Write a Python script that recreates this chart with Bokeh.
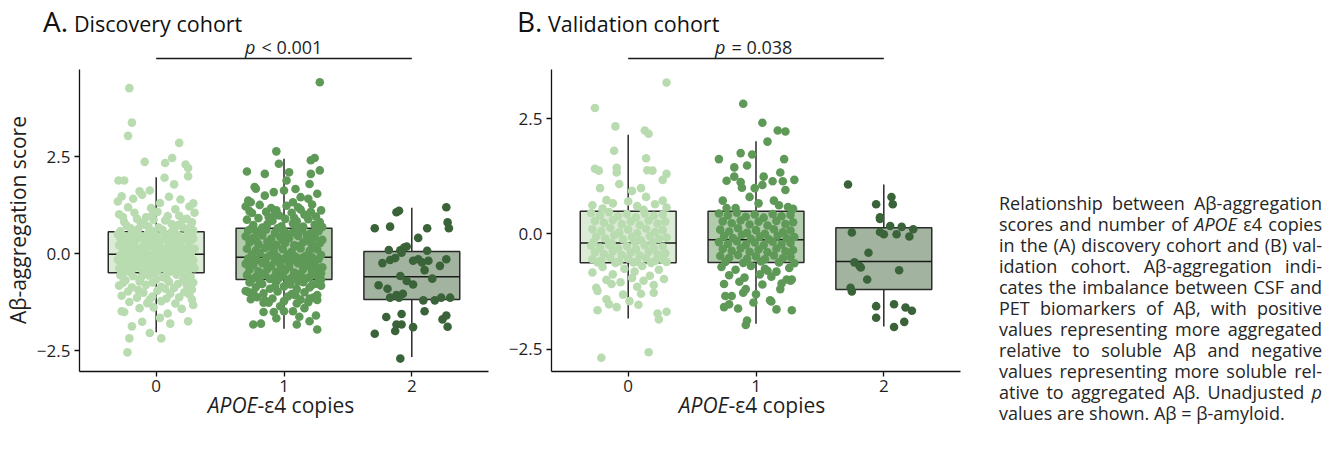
from bokeh.plotting import figure
from bokeh.models import Range1d, FixedTicker, CustomJSTickFormatter, Label, Div, ColumnDataSource
from bokeh.layouts import row, column
from bokeh.embed import file_html
from bokeh.resources import INLINE

FONT = "Open Sans"
TXT = "#1f1f1f"

# ---------------- data ----------------
CATEGORIES = [0, 1, 2]
Y_TICKS = [-2.5, 0.0, 2.5]
PT_COLORS = ["#b9dbb0", "#5f9957", "#3b6339"]
BOX_FILLS = ["#dcebd6", "#b3cbad", "#a2b49f"]

# Discovery cohort box statistics
A_Q1 = [-0.49, -0.66, -1.18]
A_MED = [-0.01, -0.09, -0.59]
A_Q3 = [0.57, 0.66, 0.06]
A_LO = [-2.02, -1.93, -2.66]
A_HI = [1.97, 2.45, 1.19]

# Validation cohort box statistics
B_Q1 = [-0.63, -0.62, -1.21]
B_MED = [-0.20, -0.13, -0.60]
B_Q3 = [0.49, 0.49, 0.13]
B_LO = [-1.84, -1.95, -2.01]
B_HI = [2.15, 2.01, 1.07]

# points: (jitter offset, score)
A0 = [(-0.21,4.27),(-0.19,3.38),(-0.22,3.04),(0.18,2.86),(-0.09,2.37),(0.07,2.34),(0.125,2.47),(0.23,2.30),(0.25,2.21),(0.25,2.00),
      (0.065,1.96),(-0.295,1.89),(-0.25,1.89),(0.14,1.79),(-0.13,1.61),(-0.05,1.63),(0.29,1.30),(-0.30,1.35),
      (-0.27,1.48),(-0.18,1.42),(-0.11,1.52),(0.03,1.31),(0.10,1.47),(0.19,1.40),(0.26,1.22),(-0.04,1.18),(0.15,1.15),(-0.22,1.20),
      (-0.29,1.02),(-0.17,1.06),(-0.08,0.94),(0.01,1.08),(0.07,0.86),(0.18,0.98),(0.24,0.90),(0.30,1.06),(-0.25,0.82),(-0.12,0.79),
      (0.12,0.77),(0.28,0.81),(-0.02,0.88),(-0.20,0.66),(-0.06,0.70),(0.05,0.62),(0.21,0.68),(0.29,0.60),(-0.28,0.58),(0.14,0.58),(-0.14,0.64),
      (-0.30,0.50),(-0.24,0.45),(-0.19,0.52),(-0.13,0.47),(-0.07,0.51),(0.00,0.46),(0.06,0.53),(0.11,0.44),(0.17,0.49),(0.23,0.42),(0.28,0.51),
      (-0.27,0.36),(-0.21,0.33),(-0.15,0.38),(-0.09,0.30),(-0.03,0.37),(0.03,0.32),(0.09,0.35),(0.15,0.28),(0.20,0.36),(0.26,0.31),
      (-0.29,0.22),(-0.23,0.18),(-0.17,0.24),(-0.11,0.16),(-0.05,0.21),(0.02,0.19),(0.08,0.14),(0.13,0.23),(0.19,0.17),(0.25,0.20),(0.30,0.13),
      (-0.26,0.08),(-0.20,0.05),(-0.14,0.10),(-0.08,0.03),(-0.01,0.07),(0.05,0.02),(0.11,0.09),(0.16,0.04),(0.22,0.06),(0.27,0.01),
      (-0.18,0.27),(0.00,0.26),(0.18,0.11),(-0.24,0.29),(0.07,0.41),(-0.10,0.43),
      (-0.28,-0.03),(-0.22,-0.06),(-0.16,-0.02),(-0.10,-0.08),(-0.04,-0.04),(0.03,-0.07),(0.09,-0.03),(0.14,-0.09),(0.20,-0.05),(0.26,-0.08),
      (-0.30,-0.15),(-0.25,-0.18),(-0.19,-0.13),(-0.13,-0.19),(-0.06,-0.14),(0.00,-0.17),(0.06,-0.12),(0.12,-0.18),(0.17,-0.14),(0.23,-0.20),(0.29,-0.16),
      (-0.27,-0.26),(-0.21,-0.30),(-0.15,-0.24),(-0.08,-0.29),(-0.02,-0.25),(0.04,-0.31),(0.10,-0.27),(0.16,-0.33),(0.21,-0.26),(0.27,-0.29),
      (-0.29,-0.38),(-0.23,-0.42),(-0.17,-0.36),(-0.11,-0.41),(-0.05,-0.37),(0.01,-0.44),(0.07,-0.39),(0.13,-0.45),(0.19,-0.40),(0.25,-0.43),(0.30,-0.37),
      (-0.20,-0.48),(0.09,-0.49),(-0.08,-0.47),(0.18,-0.21),(-0.12,-0.33),(0.02,-0.22),
      (-0.28,-0.55),(-0.18,-0.58),(-0.06,-0.56),(0.05,-0.60),(0.16,-0.54),(0.27,-0.59),
      (-0.24,-0.68),(-0.13,-0.71),(0.00,-0.66),(0.10,-0.72),(0.21,-0.68),(0.29,-0.74),
      (-0.29,-0.82),(-0.19,-0.86),(-0.08,-0.80),(0.04,-0.85),(0.14,-0.88),(0.24,-0.81),
      (-0.22,-0.97),(-0.10,-1.00),(0.01,-0.95),(0.11,-1.03),(0.22,-0.99),(-0.27,-1.08),
      (-0.15,-1.13),(-0.03,-1.10),(0.08,-1.15),(0.18,-1.12),(0.28,-1.18),(-0.21,-1.24),(-0.07,-1.27),(0.04,-1.22),(0.15,-1.28),(0.26,-1.05),
      (-0.225,-2.54),(-0.21,-2.18),(0.04,-2.18),(-0.19,-1.87),(-0.11,-1.75),(-0.05,-2.04),(0.11,-1.80),(0.25,-1.74),(0.03,-1.65),
      (-0.27,-1.48),(-0.25,-1.50),(0.29,-1.32),(0.09,-1.54),(-0.13,-1.40),(0.20,-1.42),(-0.02,-1.38),
      (-0.26,0.95),(-0.15,0.90),(-0.03,1.00),(0.09,0.97),(0.21,0.88),(-0.23,0.72),(-0.09,0.75),(0.02,0.68),(0.17,0.74),(0.27,0.70),
      (-0.16,0.55),(-0.02,0.58),(0.12,0.56),(0.25,0.58),(-0.28,0.40),(-0.06,0.42),(0.14,0.39),(0.29,0.39),(-0.20,0.14),(0.04,0.11),
      (0.24,0.12),(-0.12,-0.01),(0.10,-0.13),(-0.24,-0.10),(0.28,-0.23),(-0.18,-0.20),(0.07,-0.33),(-0.03,-0.50),(0.22,-0.52),(-0.25,-0.47),
      (-0.12,-0.62),(0.08,-0.64),(0.24,-0.66),(-0.26,-0.75),(-0.03,-0.74),(0.17,-0.78),(-0.14,-0.93),(0.07,-0.90),(0.28,-0.92),(-0.05,-1.18)]

A1 = [(0.28,4.42),(-0.06,2.64),(-0.04,2.32),(0.21,2.41),(0.24,2.47),(-0.29,2.12),(-0.15,2.06),(0.04,2.10),(0.28,2.15),(0.21,2.06),
      (0.02,1.89),(0.20,1.80),(-0.23,1.72),(-0.22,1.68),(-0.08,1.59),(0.00,1.63),(0.09,1.67),(-0.28,1.37),(-0.26,1.33),(0.13,1.46),
      (0.19,1.42),(0.07,1.33),(-0.15,1.50),(0.26,1.55),
      (-0.30,1.22),(-0.19,1.26),(-0.10,1.18),(0.02,1.24),(0.11,1.20),(0.22,1.27),(0.29,1.12),
      (-0.25,1.05),(-0.14,1.08),(-0.04,0.99),(0.06,1.06),(0.16,1.01),(0.25,0.96),
      (-0.29,0.88),(-0.20,0.92),(-0.09,0.85),(0.01,0.90),(0.10,0.84),(0.19,0.89),(0.28,0.82),
      (-0.24,0.74),(-0.13,0.77),(-0.02,0.71),(0.07,0.78),(0.15,0.70),(0.24,0.75),(-0.17,0.68),(0.30,0.69),(-0.06,1.12),(0.13,1.14),
      (-0.28,0.60),(-0.21,0.56),(-0.14,0.62),(-0.07,0.54),(0.00,0.59),(0.07,0.55),(0.14,0.61),(0.21,0.53),(0.27,0.58),
      (-0.30,0.45),(-0.24,0.41),(-0.17,0.47),(-0.10,0.39),(-0.03,0.44),(0.04,0.40),(0.11,0.46),(0.18,0.38),(0.24,0.43),(0.30,0.36),
      (-0.27,0.29),(-0.20,0.25),(-0.13,0.31),(-0.06,0.23),(0.01,0.28),(0.08,0.22),(0.15,0.30),(0.22,0.24),(0.28,0.27),
      (-0.29,0.13),(-0.22,0.09),(-0.15,0.15),(-0.08,0.07),(-0.01,0.12),(0.06,0.05),(0.13,0.14),(0.20,0.08),(0.26,0.11),
      (-0.25,-0.02),(-0.11,-0.04),(0.03,-0.01),(0.17,-0.05),(0.29,-0.03),
      (-0.28,-0.12),(-0.21,-0.16),(-0.14,-0.10),(-0.07,-0.18),(0.00,-0.13),(0.07,-0.17),(0.14,-0.11),(0.21,-0.19),(0.27,-0.14),
      (-0.30,-0.26),(-0.24,-0.30),(-0.17,-0.24),(-0.10,-0.32),(-0.03,-0.27),(0.04,-0.33),(0.11,-0.25),(0.18,-0.31),(0.24,-0.28),(0.30,-0.35),
      (-0.27,-0.41),(-0.20,-0.45),(-0.13,-0.39),(-0.06,-0.47),(0.01,-0.42),(0.08,-0.48),(0.15,-0.40),(0.22,-0.46),(0.28,-0.43),
      (-0.29,-0.55),(-0.22,-0.59),(-0.15,-0.53),(-0.08,-0.61),(-0.01,-0.56),(0.06,-0.62),(0.13,-0.54),(0.20,-0.60),(0.26,-0.57),
      (-0.25,-0.66),(-0.11,-0.65),(0.03,-0.67),(0.17,-0.64),(0.29,-0.66),
      (-0.27,-0.74),(-0.17,-0.78),(-0.06,-0.72),(0.05,-0.79),(0.15,-0.73),(0.25,-0.77),
      (-0.22,-0.86),(-0.11,-0.90),(0.00,-0.84),(0.10,-0.91),(0.20,-0.87),(0.29,-0.82),
      (-0.28,-0.98),(-0.16,-1.02),(-0.05,-0.97),(0.06,-1.04),(0.16,-0.99),(0.26,-1.06),
      (-0.21,-1.12),(-0.09,-1.15),(0.03,-1.10),(0.13,-1.18),(0.23,-1.13),
      (-0.12,-1.26),(0.00,-1.22),(0.10,-1.28),(0.19,-1.25),(-0.03,-1.35),
      (0.26,-1.95),(-0.24,-1.82),(-0.18,-1.80),(0.10,-1.82),(0.20,-1.74),(0.25,-1.59),(-0.16,-1.50),(-0.08,-1.50),(0.07,-1.48),
      (0.12,-1.62),(-0.30,-0.96),(-0.26,-1.17),(-0.16,-1.26),(0.26,-1.19),(0.00,-1.48),(0.16,-1.40),(-0.06,-1.66),
      (-0.27,1.10),(-0.07,1.03),(0.21,1.08),(-0.12,0.95),(0.08,0.93),(-0.26,0.64),(-0.05,0.66),(0.10,0.68),(0.25,0.66),(-0.18,0.52),
      (0.03,0.50),(0.18,0.48),(-0.22,0.34),(-0.01,0.35),(0.20,0.31),(-0.11,0.19),(0.10,0.20),(0.24,0.17),(-0.19,0.02),(0.09,-0.07),
      (0.22,-0.09),(-0.05,-0.08),(-0.25,-0.20),(0.04,-0.22),(0.17,-0.25),(-0.13,-0.28),(0.25,-0.37),(-0.02,-0.36),(-0.18,-0.50),(0.10,-0.52),
      (0.29,-0.50),(-0.04,-0.63),(-0.19,-0.70),(0.11,-0.71),(0.22,-0.80),(-0.07,-0.84),(-0.24,-1.00),(0.09,-1.07),(0.20,-1.15),(-0.15,-1.20)]

A2 = [(0.27,1.20),(-0.12,1.07),(-0.10,1.11),(-0.29,0.66),(-0.17,0.70),(0.12,0.66),(0.28,0.81),(0.29,0.66),(0.05,0.41),
      (-0.18,0.10),(-0.09,0.09),(-0.06,0.16),(-0.04,0.19),(-0.08,0.03),(0.12,0.08),
      (-0.23,-0.24),(-0.17,-0.16),(-0.13,-0.11),(0.01,-0.18),(0.05,-0.14),(0.08,-0.22),(0.13,-0.18),(0.27,-0.14),(0.22,-0.31),
      (0.10,-0.42),(-0.09,-0.57),(0.16,-0.64),(-0.04,-0.70),(0.01,-0.79),(-0.26,-0.81),(-0.19,-0.90),
      (-0.17,-1.13),(-0.12,-1.06),(-0.07,-1.03),(-0.10,-1.13),(0.09,-1.20),(0.18,-1.20),(0.23,-1.13),(0.30,-1.13),
      (0.10,-1.48),(-0.20,-1.63),(-0.08,-1.55),(0.27,-1.59),(0.24,-1.69),(0.28,-1.88),
      (-0.12,-1.82),(-0.08,-1.82),(-0.13,-1.99),(0.01,-1.89),(-0.29,-2.06),(-0.09,-2.70)]

B0 = [(0.30,3.28),(-0.26,2.73),(-0.10,2.33),(0.13,2.24),(0.16,2.17),(-0.11,1.80),(0.14,1.64),(-0.26,1.41),(-0.23,1.37),(-0.09,1.43),
      (-0.09,1.33),(0.15,1.38),(0.19,1.37),(0.30,1.30),(0.27,1.17),(-0.22,0.99),(-0.07,1.08),(-0.17,0.73),(0.03,0.93),(0.10,0.99),
      (0.14,0.80),(0.27,0.72),(0.30,0.57),
      (-0.28,0.62),(-0.12,0.66),(0.00,0.70),(0.07,0.60),(0.21,0.64),(-0.20,0.55),(0.12,0.52),
      (-0.29,0.45),(-0.22,0.40),(-0.15,0.47),(-0.08,0.38),(-0.01,0.43),(0.06,0.36),(0.13,0.44),(0.20,0.39),(0.27,0.42),
      (-0.26,0.28),(-0.19,0.24),(-0.12,0.30),(-0.05,0.21),(0.02,0.27),(0.09,0.19),(0.16,0.29),(0.23,0.22),(0.29,0.26),
      (-0.28,0.10),(-0.21,0.06),(-0.14,0.13),(-0.07,0.03),(0.00,0.09),(0.07,0.01),(0.14,0.11),(0.21,0.04),(0.27,0.08),
      (-0.25,-0.06),(-0.18,-0.10),(-0.11,-0.03),(-0.04,-0.12),(0.03,-0.07),(0.10,-0.14),(0.17,-0.05),(0.24,-0.11),(0.30,-0.08),
      (-0.27,-0.18),(-0.13,-0.20),(0.05,-0.17),(0.19,-0.19),
      (-0.29,-0.26),(-0.22,-0.30),(-0.15,-0.24),(-0.08,-0.32),(-0.01,-0.27),(0.06,-0.33),(0.13,-0.25),(0.20,-0.31),(0.27,-0.28),
      (-0.26,-0.40),(-0.19,-0.44),(-0.12,-0.38),(-0.05,-0.46),(0.02,-0.41),(0.09,-0.47),(0.16,-0.39),(0.23,-0.45),(0.29,-0.42),
      (-0.28,-0.55),(-0.21,-0.58),(-0.14,-0.52),(-0.07,-0.60),(0.00,-0.54),(0.07,-0.61),(0.14,-0.53),(0.21,-0.59),(0.27,-0.56),
      (-0.24,-0.62),(-0.10,-0.63),(0.04,-0.62),(0.18,-0.63),(0.30,-0.61),
      (-0.20,-0.72),(-0.03,-0.76),(0.05,-0.82),(0.11,-0.70),(0.17,-0.91),(0.24,-0.78),
      (-0.17,-1.00),(-0.06,-1.05),(0.03,-0.96),(0.12,-1.02),(0.28,-0.98),(0.07,-1.15),
      (-0.21,-2.69),(0.16,-2.57),(0.24,-1.86),(0.30,-1.69),(0.23,-1.73),(-0.24,-1.66),(-0.09,-1.59),(-0.15,-1.53),(-0.17,-1.42),
      (0.01,-1.46),(0.08,-1.54),(0.20,-1.28),(0.20,-1.11),(-0.24,-1.24),(-0.25,-1.17),(-0.13,-1.09),(-0.12,-0.88),(-0.28,-0.84),
      (0.10,-1.30),(-0.04,-1.32)]

B1 = [(-0.10,2.82),(0.05,2.41),(0.17,2.24),(0.23,2.22),(0.09,2.00),(-0.29,1.62),(-0.12,1.75),(-0.03,1.72),(0.22,1.62),(-0.17,1.44),
      (-0.07,1.48),(-0.23,1.15),(-0.17,1.24),(-0.11,1.00),(-0.12,1.12),(-0.01,0.99),(0.05,1.06),(0.06,1.24),(0.13,1.14),(0.19,1.33),
      (0.21,1.14),(0.30,1.17),(0.23,0.95),(-0.26,0.72),(-0.23,0.56),(-0.16,0.56),(0.14,0.72),(0.18,0.62),(0.25,0.58),(0.29,0.54),
      (0.02,0.66),(-0.05,0.80),
      (-0.29,0.44),(-0.22,0.40),(-0.15,0.46),(-0.08,0.37),(-0.01,0.42),(0.06,0.35),(0.13,0.43),(0.20,0.38),(0.27,0.41),
      (-0.26,0.27),(-0.19,0.23),(-0.12,0.29),(-0.05,0.20),(0.02,0.26),(0.09,0.18),(0.16,0.28),(0.23,0.21),(0.29,0.25),
      (-0.28,0.09),(-0.21,0.05),(-0.14,0.12),(-0.07,0.02),(0.00,0.08),(0.07,0.00),(0.14,0.10),(0.21,0.03),(0.27,0.07),
      (-0.25,-0.05),(-0.18,-0.09),(-0.11,-0.02),(-0.04,-0.11),(0.03,-0.06),(0.10,-0.12),(0.17,-0.04),(0.24,-0.10),(0.30,-0.07),
      (-0.29,-0.18),(-0.22,-0.22),(-0.15,-0.16),(-0.08,-0.24),(-0.01,-0.19),(0.06,-0.25),(0.13,-0.17),(0.20,-0.23),(0.27,-0.20),
      (-0.26,-0.33),(-0.19,-0.37),(-0.12,-0.31),(-0.05,-0.39),(0.02,-0.34),(0.09,-0.40),(0.16,-0.32),(0.23,-0.38),(0.29,-0.35),
      (-0.28,-0.48),(-0.21,-0.52),(-0.14,-0.46),(-0.07,-0.54),(0.00,-0.49),(0.07,-0.55),(0.14,-0.47),(0.21,-0.53),(0.27,-0.50),
      (-0.24,-0.61),(-0.10,-0.63),(0.04,-0.60),(0.18,-0.62),(0.30,-0.64),
      (-0.27,-0.72),(-0.16,-0.78),(-0.04,-0.70),(0.07,-0.76),(0.16,-0.82),(0.26,-0.74),(-0.21,-0.90),(-0.09,-0.95),(0.03,-0.88),
      (0.12,-0.93),(0.24,-0.99),(0.09,-0.80),(-0.13,-1.04),
      (-0.08,-1.98),(-0.07,-1.88),(-0.25,-1.09),(-0.24,-1.35),(-0.19,-1.35),(-0.21,-1.53),(-0.25,-1.59),(-0.08,-1.20),(-0.10,-1.28),
      (-0.02,-1.49),(0.00,-1.31),(0.11,-1.44),(0.12,-1.47),(0.16,-1.64),(0.19,-1.20),(0.28,-1.66),(0.28,-0.99),(0.27,-1.02),
      (0.05,-1.10),(-0.14,-1.62),(0.20,-1.08)]

B2 = [(-0.28,1.07),(0.06,0.80),(0.07,0.64),(-0.06,0.64),(-0.03,0.36),(-0.03,0.32),(0.05,0.17),(0.14,0.15),(0.23,0.10),
      (-0.03,0.04),(0.00,-0.01),(0.10,-0.01),(0.20,-0.06),(-0.25,0.03),(-0.12,-0.41),(-0.23,-0.62),(-0.19,-0.70),(-0.18,-0.73),
      (0.12,-0.79),(-0.13,-0.99),(-0.26,-1.17),(-0.25,-1.25),(-0.06,-1.57),(0.08,-1.53),(0.17,-1.60),(0.22,-1.67),(-0.06,-1.82),
      (0.16,-1.91),(0.08,-2.02)]

# ---------------- layout constants (pixels) ----------------
TOP_H = 34          # height of title strip above the plots
FRAME_H = 337       # plot frame height (y 34 .. 371)
BOTTOM = 34         # space under frame for x ticks
X_LO, X_HI = -0.6, 2.6
XS = 409 / 3.2


def panel(width, left, y_lo, y_hi, axis_top, q1, med, q3, lo, hi, pts, pval, p_off):
    ys = FRAME_H / (y_hi - y_lo)

    def yd(img_y):  # image y -> data
        return y_hi - (img_y - TOP_H) / ys

    def xd(off_px):  # px offset from frame left -> data
        return X_LO + off_px / XS

    p = figure(width=width, height=FRAME_H + BOTTOM, output_backend="svg", toolbar_location=None,
               x_range=Range1d(X_LO, X_HI), y_range=Range1d(y_lo, y_hi),
               min_border_left=left, min_border_right=2, min_border_top=0, min_border_bottom=BOTTOM,
               margin=0)
    p.outline_line_color = None
    p.xgrid.visible = False
    p.ygrid.visible = False
    p.background_fill_color = None
    p.border_fill_color = None

    for ax in (p.xaxis[0], p.yaxis[0]):
        ax.axis_line_color = "#111111"
        ax.axis_line_width = 1.3
        ax.major_tick_line_color = "#111111"
        ax.major_tick_line_width = 1.3
        ax.major_tick_in = 0
        ax.major_tick_out = 5
        ax.minor_tick_line_color = None
        ax.major_label_text_font = FONT
        ax.major_label_text_font_size = "17px"
        ax.major_label_text_color = TXT
    p.xaxis.ticker = FixedTicker(ticks=CATEGORIES)
    p.xaxis.major_label_standoff = 3
    p.yaxis.ticker = FixedTicker(ticks=Y_TICKS)
    p.yaxis.major_label_standoff = 4
    p.yaxis.bounds = (y_lo, axis_top)
    p.yaxis.formatter = CustomJSTickFormatter(
        code="return tick < 0 ? '\u2212' + Math.abs(tick).toFixed(1) : tick.toFixed(1);")

    # boxes
    src = ColumnDataSource(dict(x=CATEGORIES, q1=q1, med=med, q3=q3, lo=lo, hi=hi,
                                fill=BOX_FILLS, x0=[c - 0.375 for c in CATEGORIES],
                                x1=[c + 0.375 for c in CATEGORIES]))
    p.segment(x0="x", y0="q3", x1="x", y1="hi", source=src, line_color="#1a1a1a", line_width=1.4)
    p.segment(x0="x", y0="lo", x1="x", y1="q1", source=src, line_color="#1a1a1a", line_width=1.4)
    p.vbar(x="x", width=0.75, top="q3", bottom="q1", source=src, fill_color="fill",
           line_color="#2a2a2a", line_width=1.5)
    p.segment(x0="x0", y0="med", x1="x1", y1="med", source=src, line_color="#1a1a1a", line_width=1.6)

    # points
    for c, grp, col in zip(CATEGORIES, pts, PT_COLORS):
        p.scatter(x=[c + d for d, _ in grp], y=[v for _, v in grp], size=8.6,
                  fill_color=col, line_color=None)

    # comparison bar between groups 0 and 2
    p.segment(x0=[CATEGORIES[0]], y0=[yd(58)], x1=[CATEGORIES[2]], y1=[yd(58)],
              line_color="#1a1a1a", line_width=1.3)
    p.add_layout(Label(x=xd(p_off), y=yd(46), text="p", text_font=FONT, text_font_style="italic",
                       text_font_size="18px", text_color=TXT, text_align="right", text_baseline="alphabetic"))
    p.add_layout(Label(x=xd(p_off + 6), y=yd(46), text=pval, text_font=FONT,
                       text_font_size="18px", text_color=TXT, text_align="left", text_baseline="alphabetic"))
    return p


def title_div(width, letter, letter_left, text, text_left):
    html = ("<div style=\"position:relative;width:%dpx;height:%dpx;font-family:'Open Sans';color:#111\">"
            "<span style='position:absolute;left:%dpx;top:7px;font-size:28px;line-height:28px;white-space:nowrap'>%s</span>"
            "<span style='position:absolute;left:%dpx;top:13px;font-size:21.5px;line-height:21.5px;white-space:nowrap'>%s</span>"
            "</div>") % (width, TOP_H, letter_left, letter, text_left, text)
    return Div(text=html, width=width, height=TOP_H, margin=0)


def xlab_div(width, center):
    html = ("<div style=\"position:relative;width:%dpx;height:30px;font-family:'Open Sans';color:%s\">"
            "<div style='position:absolute;left:%dpx;top:-10px;width:240px;text-align:center;font-size:21px;"
            "line-height:21px;white-space:nowrap'><i>APOE</i>-\u03b54 copies</div></div>") % (width, TXT, center - 120)
    return Div(text=html, width=width, height=30, margin=0)


TOTAL_H = TOP_H + FRAME_H + BOTTOM + 30

pa = panel(457, 46, -3.033, 5.652, 4.75, A_Q1, A_MED, A_Q3, A_LO, A_HI, [A0, A1, A2], "< 0.001", 176)
pb = panel(472, 61, -2.987, 4.323, 3.557, B_Q1, B_MED, B_Q3, B_LO, B_HI, [B0, B1, B2], "= 0.038", 174)

ylab = Div(text=("<div style=\"position:relative;width:33px;height:%dpx;font-family:'Open Sans';color:%s\">"
                 "<div style='position:absolute;left:6px;top:110px;height:220px;writing-mode:vertical-rl;"
                 "transform:rotate(180deg);text-align:center;font-size:21px;line-height:25px;white-space:nowrap'>"
                 "A\u03b2-aggregation score</div></div>") % (TOTAL_H, TXT),
           width=33, height=TOTAL_H, margin=0)

colA = column(title_div(457, "A.", 10, "Discovery cohort", 41), pa, xlab_div(457, 248), spacing=0, margin=0)
colB = column(title_div(472, "B.", 27, "Validation cohort", 58), pb, xlab_div(472, 262), spacing=0, margin=0)

CAPTION = [
    "Relationship between A\u03b2-aggregation",
    "scores and number of <i>APOE</i> \u03b54 copies",
    "in the (A) discovery cohort and (B) val-",
    "idation cohort. A\u03b2-aggregation indi-",
    "cates the imbalance between CSF and",
    "PET biomarkers of A\u03b2, with positive",
    "values representing more aggregated",
    "relative to soluble A\u03b2 and negative",
    "values representing more soluble rel-",
    "ative to aggregated A\u03b2. Unadjusted <i>p</i>",
    "values are shown. A\u03b2 = \u03b2-amyloid.",
]
body = "".join("<div style='text-align:justify;text-align-last:justify;white-space:nowrap'>%s</div>" % l
               for l in CAPTION[:-1])
body += "<div style='text-align:left;white-space:nowrap'>%s</div>" % CAPTION[-1]
html = ("<div style=\"font-family:'Open Sans';font-size:18px;line-height:21px;color:#262626;width:323px\">"
        + body + "</div>")
cap = Div(text=html, width=323, height=235, margin=(193, 0, 0, 37))

layout = row(ylab, colA, colB, cap, spacing=0, margin=0)
open("out.html", "w").write(file_html(layout, INLINE))
